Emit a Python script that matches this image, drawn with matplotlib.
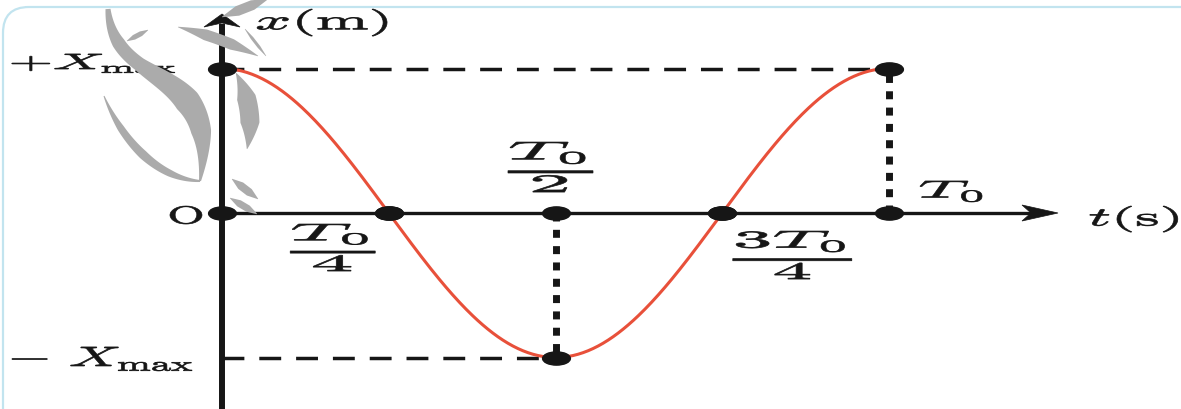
import matplotlib
matplotlib.use('Agg')
import matplotlib.pyplot as plt
import numpy as np
from matplotlib.path import Path
from matplotlib.patches import PathPatch, Polygon, FancyBboxPatch
from matplotlib.textpath import TextPath
from matplotlib.transforms import Affine2D

plt.rcParams['mathtext.fontset'] = 'cm'

W, H, DPI = 1181, 410, 100

# one period of x(t) = Xmax cos(2 pi t / T0), t in units of T0, x in units of Xmax
period = 1.0
amplitude = 1.0
key_times = [0.0, 0.25, 0.5, 0.75, 1.0]
key_values = [1.0, 0.0, -1.0, 0.0, 1.0]

# labels: text, (t, x) centre, ink width / height in px
labels = [
    (r'$+X_{\max}$',            -0.193,  1.035, 163, 19),
    (r'$-\ X_{\max}$',          -0.180, -1.010, 180, 24),
    (r'$\mathrm{O}$',           -0.054, -0.014,  32, 18),
    (r'$x(\mathrm{m})$',         0.150,  1.318, 130, 27),
    (r'$t(\mathrm{s})$',         1.367, -0.042,  88, 26),
    (r'$T_0$',                   1.093,  0.149,  62, 21),
    (r'$\frac{T_0}{4}$',         0.166, -0.239,  85, 47),
    (r'$\frac{T_0}{2}$',         0.4925, 0.318,  85, 50),
    (r'$\frac{3T_0}{4}$',        0.855, -0.291, 119, 48),
]

INK = '#161616'
RED = '#e8503a'
GREY = '#ababab'

# pixel scale of the axes: origin at (222, 214) px
px_t, px_x = 667.0, 144.5
ox, oy = 222.0, 214.0

fig = plt.figure(figsize=(W / DPI, H / DPI), dpi=DPI)
ax = fig.add_axes([0, 0, 1, 1])
ax.set_xlim(-ox / px_t, (W - ox) / px_t)
ax.set_ylim(-(H - oy) / px_x, oy / px_x)
ax.axis('off')


def stretched_text(ax, s, t, x, w_px, h_px, color=INK):
    tp = TextPath((0, 0), s, size=20)
    bb = tp.get_extents()
    tr = (Affine2D()
          .translate(-(bb.x0 + bb.x1) / 2, -(bb.y0 + bb.y1) / 2)
          .scale(w_px / bb.width, h_px / bb.height)
          .translate(*ax.transData.transform((t, x))))
    ax.add_patch(PathPatch(tp, transform=tr, fc=color, ec=color, lw=0.5, zorder=6))


def arrow_head(ax, tip, direction, length, half, notch):
    # stealth head, sizes in px converted to data units
    d = np.array(direction, float)
    n = np.array([-d[1], d[0]])
    scale = np.array([1 / px_t, 1 / px_x])
    tip = np.array(tip)
    pts = [tip,
           tip + (-d * length + n * half) * scale,
           tip + (-d * (length - notch)) * scale,
           tip + (-d * length - n * half) * scale]
    ax.add_patch(Polygon(pts, closed=True, fc=INK, ec=INK, lw=0.5, zorder=4))


# axes
t_end = (1058 - ox) / px_t
x_top = (oy - 15) / px_x
ax.plot([0, t_end - 20 / px_t], [0, 0], color=INK, lw=2.4, solid_capstyle='butt', zorder=3)
ax.plot([0, 0], [ax.get_ylim()[0] - 0.1, x_top - 10 / px_x], color=INK, lw=4.3,
        solid_capstyle='butt', zorder=3)
arrow_head(ax, (t_end, 0), (1, 0), 36, 8, 9)
arrow_head(ax, (0, x_top), (0, 1), 13, 18, 4)

# guide lines to the extremes
t_min = key_times[key_values.index(min(key_values))]
t_last = key_times[-1]
ax.plot([0, t_last], [amplitude, amplitude], color=INK, lw=2.5,
        linestyle=(0, (6.3, 4.3)), dash_capstyle='butt', zorder=2)
ax.plot([0, t_min], [-amplitude, -amplitude], color=INK, lw=2.5,
        linestyle=(0, (6.3, 4.3)), dash_capstyle='butt', zorder=2)
ax.plot([t_min, t_min], [0, -amplitude], color=INK, lw=5,
        linestyle=(0, (1.15, 1.2)), dash_capstyle='butt', zorder=2)
ax.plot([t_last, t_last], [0, amplitude], color=INK, lw=5,
        linestyle=(0, (1.15, 1.2)), dash_capstyle='butt', zorder=2)

# the oscillation
t = np.linspace(0, period, 400)
ax.plot(t, amplitude * np.cos(2 * np.pi * t / period), color=RED, lw=2.2, zorder=4)

# flattened dots on the curve and on the time axis
ellipse = Path.unit_circle().transformed(Affine2D().scale(2.1, 1))
ax.plot(key_times, key_values, linestyle='none', marker=ellipse, ms=20,
        color=INK, zorder=5)
ax.plot(key_times, np.zeros(len(key_times)), linestyle='none', marker=ellipse, ms=20,
        color=INK, zorder=5)

for s, lt, lx, w, h in labels:
    stretched_text(ax, s, lt, lx, w, h)

# overlay in pixel coordinates: frame and watermark
deco = fig.add_axes([0, 0, 1, 1], zorder=5)
deco.set_xlim(0, W)
deco.set_ylim(H, 0)
deco.axis('off')
deco.patch.set_alpha(0)

deco.add_patch(FancyBboxPatch((3, 8), 1240, 460,
                              boxstyle='round,pad=0,rounding_size=26',
                              fc='none', ec='#c2e4ef', lw=1.6))


def brush(p0, p1, p2, p3, widths):
    # tapered stroke along a cubic bezier, widths spread evenly along it
    u = np.linspace(0, 1, 120)[:, None]
    P = [np.array(p, float) for p in (p0, p1, p2, p3)]
    pts = (1 - u) ** 3 * P[0] + 3 * (1 - u) ** 2 * u * P[1] + 3 * (1 - u) * u ** 2 * P[2] + u ** 3 * P[3]
    der = 3 * (1 - u) ** 2 * (P[1] - P[0]) + 6 * (1 - u) * u * (P[2] - P[1]) + 3 * u ** 2 * (P[3] - P[2])
    nrm = np.column_stack([-der[:, 1], der[:, 0]]) / np.hypot(der[:, 0], der[:, 1])[:, None]
    w = np.interp(u[:, 0], np.linspace(0, 1, len(widths)), widths)[:, None] / 2
    outline = np.vstack([pts + nrm * w, (pts - nrm * w)[::-1]])
    deco.add_patch(Polygon(outline, closed=True, fc=GREY, ec='none', zorder=10))


def blade(p0, p1, bend, width):
    p0, p1 = np.array(p0, float), np.array(p1, float)
    d = p1 - p0
    n = np.array([-d[1], d[0]]) / np.hypot(*d)
    brush(p0, p0 + d / 3 + n * bend, p0 + 2 * d / 3 + n * bend, p1, [0.5, width, width, 0.5])


brush((108, 10), (114, 95), (222, 60), (200, 182), [5, 13, 14, 20, 26, 20, 2])
brush((104, 97), (122, 142), (158, 180), (200, 182), [1, 7, 9, 7, 2])
blade((127, 42), (148, 31), 0, 5)
blade((178, 28), (258, 57), -3, 11)
blade((245, 30), (266, 57), 0, 3)
blade((222, 18), (268, 0), 0, 10)
blade((236, 74), (247, 150), -10, 19)
blade((232, 180), (258, 200), 0, 8)
blade((230, 199), (257, 215), 0, 7)

fig.savefig('out.png', dpi=DPI)
